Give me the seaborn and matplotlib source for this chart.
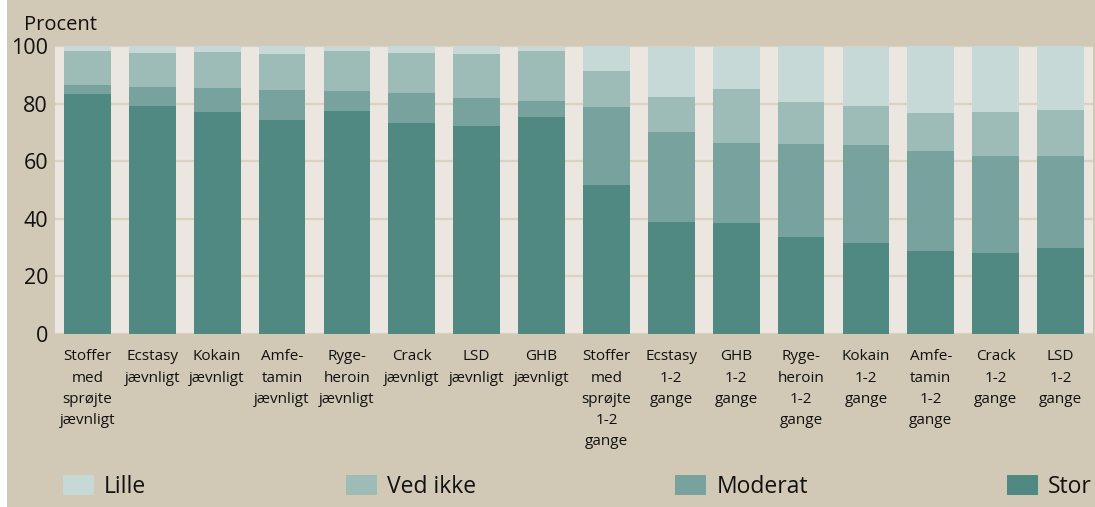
import pandas as pd
import seaborn as sns
from matplotlib import pyplot as plt
from matplotlib.patches import Rectangle

# Categories (x axis)
categories = [
    "Stoffer\nmed\nsprøjte\njævnligt", "Ecstasy\njævnligt", "Kokain\njævnligt",
    "Amfe-\ntamin\njævnligt", "Ryge-\nheroin\njævnligt", "Crack\njævnligt",
    "LSD\njævnligt", "GHB\njævnligt", "Stoffer\nmed\nsprøjte\n1-2\ngange",
    "Ecstasy\n1-2\ngange", "GHB\n1-2\ngange", "Ryge-\nheroin\n1-2\ngange",
    "Kokain\n1-2\ngange", "Amfe-\ntamin\n1-2\ngange", "Crack\n1-2\ngange",
    "LSD\n1-2\ngange",
]

# Percent per segment (bottom to top)
stor = [83.3, 79.2, 77.1, 74.3, 77.4, 73.3, 72.2, 75.3, 51.7, 38.9, 38.5, 33.7, 31.6, 28.8, 28.1, 29.9]
moderat = [3.2, 6.6, 8.3, 10.4, 7.0, 10.4, 9.7, 5.6, 27.1, 31.2, 27.8, 32.3, 34.0, 34.7, 33.7, 31.9]
ved_ikke = [11.8, 11.8, 12.5, 12.5, 13.9, 13.9, 15.3, 17.4, 12.5, 12.2, 18.8, 14.6, 13.6, 13.2, 15.3, 16.0]
lille = [1.7, 2.4, 2.1, 2.8, 1.4, 2.4, 2.8, 1.4, 8.7, 17.4, 14.6, 19.4, 20.5, 23.3, 22.9, 22.2]

series = ["Lille", "Ved ikke", "Moderat", "Stor"]
colours = {"Lille": "#C6D9D7", "Ved ikke": "#9DBCB8", "Moderat": "#78A29E", "Stor": "#4F8982"}

df = pd.DataFrame({"cat": categories, "Stor": stor, "Moderat": moderat,
                   "Ved ikke": ved_ikke, "Lille": lille})
# cumulative tops, drawn tallest first so the lower ones cover them
df["top_Stor"] = df["Stor"]
df["top_Moderat"] = df["top_Stor"] + df["Moderat"]
df["top_Ved ikke"] = df["top_Moderat"] + df["Ved ikke"]
df["top_Lille"] = df["top_Ved ikke"] + df["Lille"]

sns.set_style("white")
plt.rcParams["font.family"] = ["Open Sans", "DejaVu Sans"]
plt.rcParams["text.color"] = "#111111"
plt.rcParams["xtick.color"] = "#111111"
plt.rcParams["ytick.color"] = "#111111"

fig = plt.figure(figsize=(10.95, 5.07), dpi=100, facecolor="white")
fig.patches.append(Rectangle((7 / 1095, 0), 1, 1, transform=fig.transFigure,
                             facecolor="#D1C8B5", edgecolor="none", zorder=-10))
ax = fig.add_axes([55 / 1095, 173 / 507, 1038 / 1095, 288 / 507])
ax.set_facecolor("#EBE6DF")

for name in series:
    sns.barplot(data=df, x="cat", y="top_" + name, color=colours[name], saturation=1,
                width=0.72, order=categories, label=name, ax=ax, linewidth=0)

ax.set_xlim(-0.5, 15.5)
ax.set_ylim(0, 100)
ax.set_yticks([0, 20, 40, 60, 80, 100])
ax.set(xlabel="", ylabel="")
ax.yaxis.grid(True, color="#D9D1C1", linewidth=1.6)
ax.set_axisbelow(True)
for s in ax.spines.values():
    s.set_visible(False)
ax.tick_params(axis="y", length=0, pad=5, labelsize=15.5)
ax.tick_params(axis="x", length=0, pad=11, labelsize=11)
plt.setp(ax.get_xticklabels(), linespacing=1.57)

fig.text(24 / 1095, 1 - 30 / 507, "Procent", fontsize=14.5, va="baseline", ha="left")

handles, labels = ax.get_legend_handles_labels()
if ax.get_legend():
    ax.get_legend().remove()
fig.legend(handles, labels, loc="center left", bbox_to_anchor=(63 / 1095, 20 / 507, 1029 / 1095, 0),
           mode="expand", ncol=4, frameon=False, fontsize=16.5, borderaxespad=0, borderpad=0,
           handlelength=1.35, handleheight=1.0, handletextpad=0.45)

fig.savefig("out.png", dpi=100, facecolor=fig.get_facecolor())
